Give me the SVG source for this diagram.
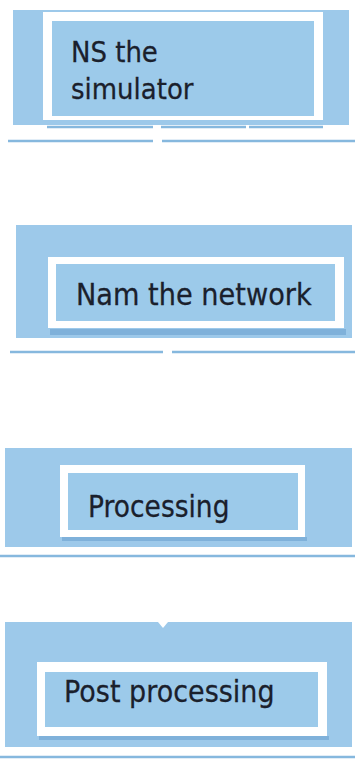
<svg xmlns="http://www.w3.org/2000/svg" width="355" height="759" viewBox="0 0 355 759">
  <style>
    .panel { fill: #9dc9ea; }
    .frame { fill: #ffffff; }
    .box { fill: #9ccaea; }
    .shade { fill: #7fb1da; }
    .rule { stroke: #86b8de; stroke-width: 2.5; fill: none; }
    .label { font-family: "DejaVu Sans", Verdana, sans-serif; fill: #1a202c; stroke: #1a202c; stroke-width: 0.25; }
  </style>

  <!-- Stage 1 -->
  <g id="ns-simulator">
    <rect class="panel" x="13" y="10" width="336" height="115"/>
    <rect class="frame" x="43" y="12" width="280" height="108"/>
    <rect class="box" x="52" y="21" width="262" height="95"/>
    <text class="label" transform="translate(71 62) scale(1 1.12)" font-size="26">NS the</text>
    <text class="label" transform="translate(71 98.5) scale(1 1.12)" font-size="26">simulator</text>
  </g>

  <!-- Stage 2 -->
  <g id="nam-network">
    <rect class="panel" x="16" y="225" width="336" height="113"/>
    <rect class="shade" x="50" y="329" width="296" height="6"/>
    <rect class="frame" x="48" y="257" width="296" height="71"/>
    <rect class="box" x="56" y="264" width="279" height="57"/>
    <text class="label" transform="translate(76 304.5) scale(1 1.12)" font-size="27.2">Nam the network</text>
  </g>

  <!-- Stage 3 -->
  <g id="processing">
    <rect class="panel" x="5" y="448" width="347" height="99"/>
    <rect class="shade" x="62" y="537" width="245" height="4"/>
    <rect class="frame" x="60" y="465" width="245" height="72"/>
    <rect class="box" x="68" y="473" width="230" height="57"/>
    <text class="label" transform="translate(88 516.5) scale(1 1.12)" font-size="26.5">Processing</text>
  </g>

  <!-- Stage 4 -->
  <g id="post-processing">
    <rect class="panel" x="5" y="622" width="347" height="125"/>
    <path d="M158 622 L163 628 L168 622 Z" fill="#ffffff"/>
    <rect class="shade" x="39" y="736" width="290" height="4"/>
    <rect class="frame" x="37" y="662" width="290" height="74"/>
    <rect class="box" x="45" y="672" width="273" height="55"/>
    <text class="label" transform="translate(64 701.5) scale(1 1.12)" font-size="27">Post processing</text>
  </g>

  <!-- Connectors between stages -->
  <g id="connectors">
    <path class="rule" d="M47 127 H153 M161 127 H246 M249 127 H323"/>
    <path class="rule" d="M8 141 H153 M162 141 H355"/>
    <path class="rule" d="M10 352 H163 M172 352 H355"/>
    <path class="rule" d="M0 556 H355" stroke-width="1.5"/>
    <path class="rule" d="M0 757 H355" stroke-width="1.5"/>
  </g>
</svg>
